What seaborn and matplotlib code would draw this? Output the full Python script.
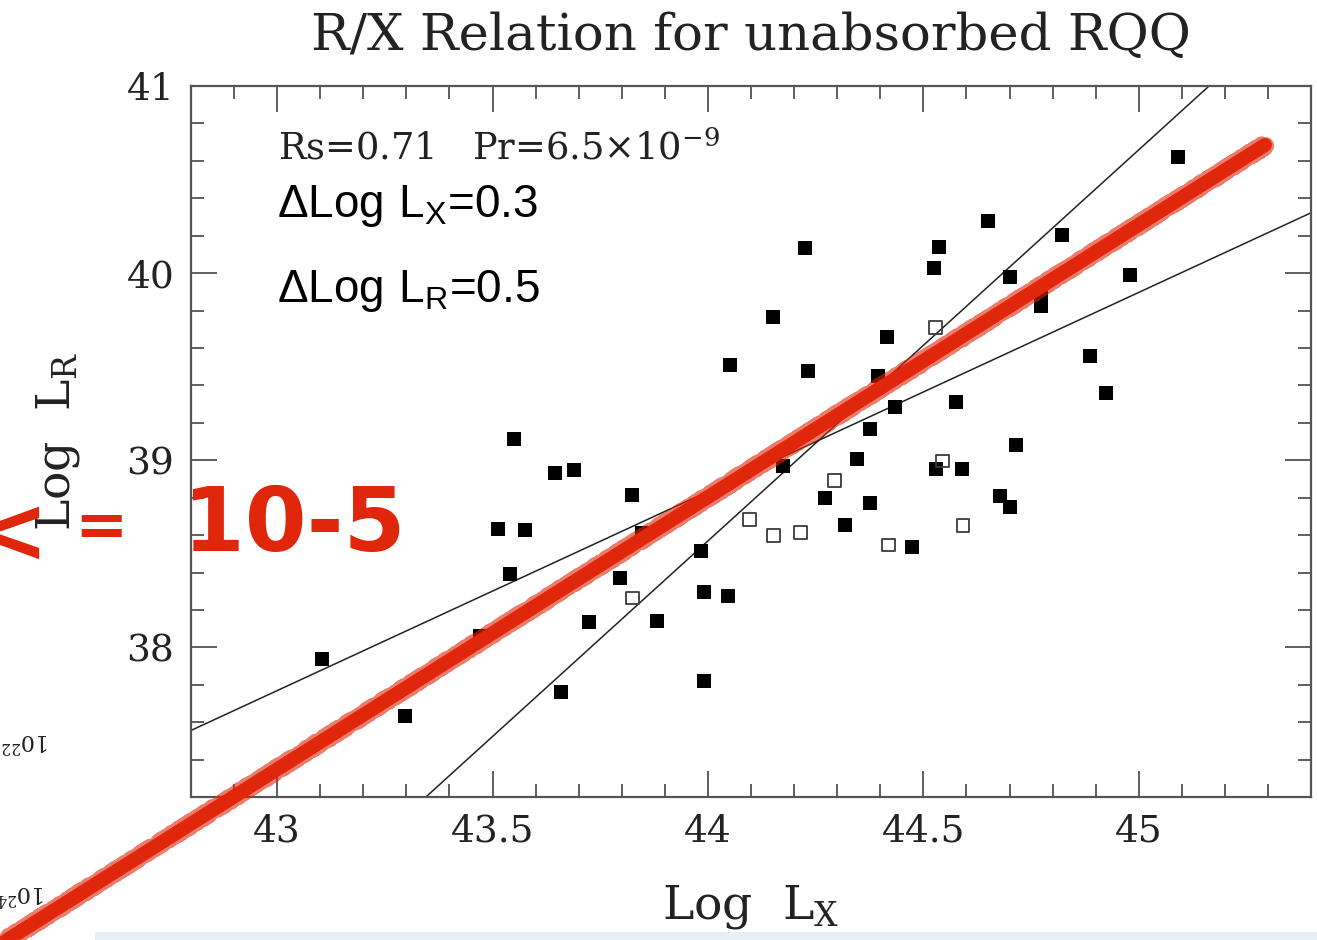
import matplotlib
matplotlib.use("Agg")
import matplotlib.pyplot as plt
import numpy as np
import pandas as pd
import seaborn as sns

# ---- data -------------------------------------------------------------
# radio-quiet quasars, filled squares
lx_filled = [43.104, 43.297, 43.472, 43.513, 43.540, 43.550, 43.575, 43.644,
             43.690, 43.660, 43.724, 43.797, 43.824, 43.847, 43.882, 43.984,
             43.992, 43.990, 44.046, 44.052, 44.150, 44.175, 44.225, 44.233,
             44.272, 44.318, 44.347, 44.376, 44.376, 44.395, 44.416, 44.434,
             44.474, 44.525, 44.536, 44.530, 44.576, 44.589, 44.651, 44.679,
             44.700, 44.701, 44.714, 44.772, 44.772, 44.822, 44.886, 44.925,
             44.979, 45.092]
lr_filled = [37.939, 37.633, 38.063, 38.632, 38.390, 39.112, 38.628, 38.931,
             38.948, 37.761, 38.138, 38.369, 38.813, 38.614, 38.143, 38.513,
             38.298, 37.820, 38.276, 39.508, 39.766, 38.970, 40.134, 39.476,
             38.799, 38.653, 39.005, 39.168, 38.772, 39.453, 39.658, 39.286,
             38.534, 40.026, 40.140, 38.952, 39.313, 38.952, 40.276, 38.810,
             39.978, 38.748, 39.082, 39.869, 39.823, 40.205, 39.556, 39.361,
             39.992, 40.623]

# open squares
lx_open = [43.824, 44.096, 44.153, 44.215, 44.293, 44.420, 44.528, 44.545, 44.592]
lr_open = [38.264, 38.685, 38.600, 38.614, 38.890, 38.547, 39.711, 38.996, 38.653]

# regression lines: slope and value at Log Lx = 44
fit_slopes = [2.090, 1.064]
fit_at_44 = [38.569, 38.833]

# hand-drawn highlight line (end points)
red_x = [42.30, 45.293]
red_y = [36.33, 40.685]

x_ticks = [43, 43.5, 44, 44.5, 45]
x_tick_labels = ["43", "43.5", "44", "44.5", "45"]
y_ticks = [38, 39, 40, 41]
y_tick_labels = ["38", "39", "40", "41"]
x_range = [42.8, 45.4]
y_range = [37.2, 41.0]

filled = pd.DataFrame({"lx": lx_filled, "lr": lr_filled})
opened = pd.DataFrame({"lx": lx_open, "lr": lr_open})

# ---- style ------------------------------------------------------------
sns.set_theme(style="ticks")
plt.rcParams["font.family"] = ["DejaVu Serif"]
plt.rcParams["mathtext.fontset"] = "custom"
plt.rcParams["mathtext.rm"] = "DejaVu Serif"
plt.rcParams["mathtext.it"] = "DejaVu Serif:italic"
plt.rcParams["mathtext.bf"] = "DejaVu Serif:bold"
plt.rcParams["mathtext.sf"] = "Liberation Sans"

RED = "#e0260b"
INK = "#222222"

fig = plt.figure(figsize=(13.17, 9.40), dpi=100)
fig.patch.set_facecolor("white")
ax = fig.add_axes([0.145, 0.152, 0.8505, 0.7565])
ax.set_facecolor("white")

# ---- marks ------------------------------------------------------------
sns.scatterplot(data=filled, x="lx", y="lr", marker="s", s=95, color="black",
                edgecolor="black", linewidth=0, ax=ax, zorder=3)
sns.scatterplot(data=opened, x="lx", y="lr", marker="s", s=85,
                facecolors="none", edgecolor="#3a3a3a", linewidth=1.3,
                ax=ax, zorder=3)

xs = np.array(x_range)
for slope, y44 in zip(fit_slopes, fit_at_44):
    ax.plot(xs, y44 + slope * (xs - 44.0), color=INK, lw=1.1, zorder=2)

# red highlight stroke
for lw, sk in [(10, None), (12.5, (2.0, 2.5, 2.0))]:
    ln, = ax.plot(red_x, red_y, color=RED, lw=lw, solid_capstyle="round",
                  clip_on=False, zorder=5, alpha=1.0 if sk is None else 0.6)
    if sk is not None:
        ln.set_sketch_params(*sk)

# ---- axes -------------------------------------------------------------
ax.set_xlim(*x_range)
ax.set_ylim(*y_range)
ax.set_xticks(x_ticks)
ax.set_xticklabels(x_tick_labels)
ax.set_yticks(y_ticks)
ax.set_yticklabels(y_tick_labels)
ax.set_xticks(np.arange(42.9, 45.35, 0.1), minor=True)
ax.set_yticks(np.arange(37.2, 41.0, 0.2), minor=True)
ax.tick_params(which="both", direction="in", top=True, right=True,
               color="#333333", width=1.1, labelsize=27, labelcolor=INK)
ax.tick_params(which="major", length=19, pad=12)
ax.tick_params(which="minor", length=9.5)
for sp in ax.spines.values():
    sp.set_color("#555555")
    sp.set_linewidth(1.6)

ax.set_xlabel(r"Log  L$_\mathrm{X}$", fontsize=34, labelpad=24, color=INK)
ax.set_ylabel(r"Log  L$_\mathrm{R}$", fontsize=34, labelpad=32, color=INK)
ax.set_title("R/X Relation for unabsorbed RQQ", fontsize=37, pad=26, color=INK)

# ---- annotations ------------------------------------------------------
ax.text(0.0777, 0.896, r"Rs=0.71   Pr=6.5$\times$10$^{-9}$", transform=ax.transAxes,
        fontsize=26.5, color=INK, va="baseline")
ax.text(0.0768, 0.8158, r"$\mathsf{\Delta Log\ L_X}$=0.3", transform=ax.transAxes,
        fontsize=33, family="Liberation Sans", color="black", va="baseline")
ax.text(0.0768, 0.696, r"$\mathsf{\Delta Log\ L_R}$=0.5", transform=ax.transAxes,
        fontsize=33, family="Liberation Sans", color="black", va="baseline")

# large red note on the left
fig.text(-0.022, 1 - 536 / 940, "<", fontsize=66, fontweight="bold",
         family="DejaVu Sans", color=RED, ha="left", va="center", zorder=10)
fig.text(101 / 1317, 1 - 528 / 940, "=", fontsize=46, fontweight="bold",
         family="DejaVu Sans", color=RED, ha="center", va="center", zorder=10)
fig.text(405 / 1317, 1 - 526 / 940, "10-5", fontsize=64, fontweight="bold",
         family="DejaVu Sans", color=RED, ha="right", va="center", zorder=10)

# fragments of a neighbouring panel, upside down
fig.text(50 / 1317, 1 - 740 / 940, r"10$^{22}$", fontsize=16, rotation=180,
         ha="right", va="center", color=INK)
fig.text(46 / 1317, 1 - 893 / 940, r"10$^{24}$", fontsize=16, rotation=180,
         ha="right", va="center", color=INK)

# light band along the bottom edge
fig.patches.append(plt.Rectangle((95 / 1317, 0), 1, 8 / 940, transform=fig.transFigure,
                                 facecolor="#e8eef6", edgecolor="none", zorder=0))

fig.savefig("out.png", dpi=100, facecolor="white")
